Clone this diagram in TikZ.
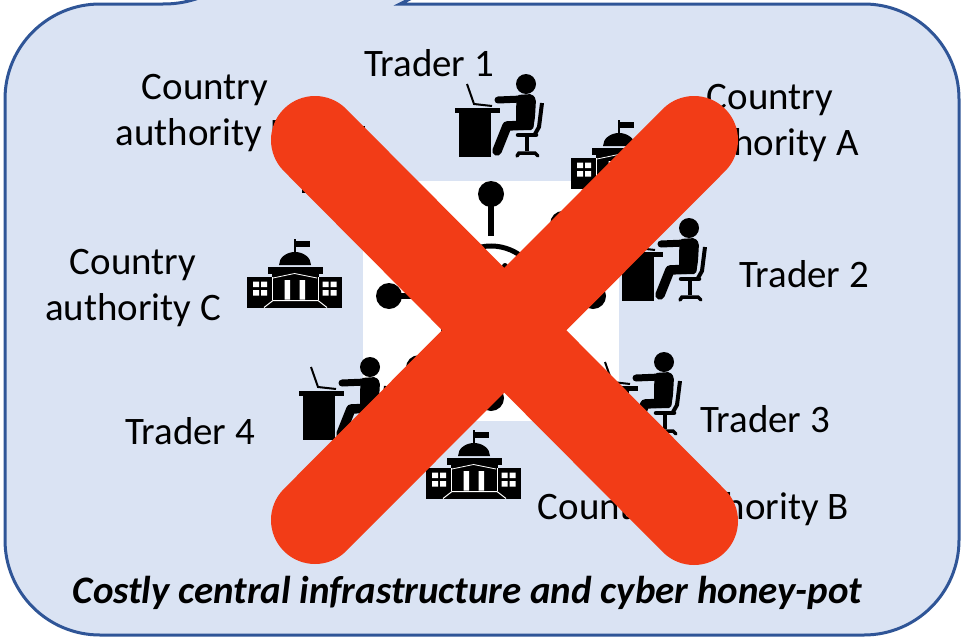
\documentclass[tikz,border=0pt]{standalone}
\usepackage{fontspec}
\usetikzlibrary{calc}
\setmainfont{Carlito}
\definecolor{panelfill}{HTML}{DAE3F3}
\definecolor{panelline}{HTML}{2F5597}
\definecolor{crossred}{HTML}{F23C17}
\tikzset{
  x=1pt,y=-1pt,
  lbl/.style={inner sep=0pt,outer sep=0pt,font=\fontsize{38.9}{46}\selectfont,text=black},
  mlbl/.style={lbl,align=center},
  captext/.style={lbl,font=\fontsize{38.9}{46}\selectfont\bfseries\itshape},
  crossbar/.style={draw=crossred,line width=88pt,line cap=round},
  building/.pic={
    \fill[black] (46.7,0) rectangle (49,16);
    \fill[black] (48,1.7) rectangle (63,8);
    \fill[black] (32,26) arc[start angle=180,end angle=360,x radius=16,y radius=13] -- cycle;
    \fill[black] (20.7,28) rectangle (76,34.5);
    \fill[black] (0,38) rectangle (25,68.5);
    \fill[black] (72,38) rectangle (95,68.5);
    \fill[black] (25,34) rectangle (72,68.5);
    \fill[white] (6,42.5) rectangle (12,48) (14,42.5) rectangle (20,48)
                 (6,51) rectangle (12,56.5) (14,51) rectangle (20,56.5)
                 (75.5,42.5) rectangle (81.5,48) (83.5,42.5) rectangle (89.5,48)
                 (75.5,51) rectangle (81.5,56.5) (83.5,51) rectangle (89.5,56.5);
    \draw[white,line width=.8pt] (26,39) -- (47.5,34.5) -- (70,39);
    \draw[white,line width=1pt] (25.5,38) -- (25.5,61) (71.5,38) -- (71.5,61);
    \fill[white] (37.5,41) rectangle (43,60.5) (52.5,41) rectangle (58,60.5);
    \draw[white,line width=1pt] (17,68.5) -- (26,61.5) -- (71,61.5) -- (80,68.5);
  },
  trader/.pic={
    \fill[black] (0,0) circle[radius=10];
    \fill[black] (-67,28) rectangle (-35,72.5);
    \fill[black] (-71,24) rectangle (-26,29);
    \draw[black,line width=2pt] (-59,0) -- (-52,20) -- (-34,22);
    \draw[black,line width=7pt,line cap=round] (-28,16) -- (-4,15);
    \fill[black,rounded corners=2pt] (-9,11) -- (6,10) -- (10,15) -- (9,33) -- (7,46) -- (-10,46) -- (-10,25) -- cycle;
    \draw[black,line width=9.5pt,line cap=round,line join=round] (3,41) -- (-19,42) -- (-29,67);
    \draw[black,line width=4pt,line join=round] (16,19) -- (13,43) -- (9,50);
    \draw[black,line width=4.5pt,line cap=round] (-8,51) -- (10,51);
    \draw[black,line width=4pt] (1,53) -- (1,67);
    \draw[black,line width=3.5pt,line cap=round] (-9,72) -- (-7,69) -- (9,69) -- (12,72);
  }
}
\begin{document}
\begin{tikzpicture}
\useasboundingbox (0,0) rectangle (961,637);
\clip (0,0) rectangle (961,637);
\fill[white] (0,0) rectangle (961,637);
% callout panel
\draw[fill=panelfill,draw=panelline,line width=3pt,line join=miter]
  (100,4) -- (163,4) .. controls (173,4) and (183,3) .. (196,-1) -- (215,-8) -- (424,-8) -- (400,4)
  -- (864,4) arc[start angle=-90,end angle=0,radius=95] -- (959,540)
  arc[start angle=0,end angle=90,radius=95] -- (100,635)
  arc[start angle=90,end angle=180,radius=95] -- (5,99)
  arc[start angle=180,end angle=270,radius=95] -- cycle;
% central network picture
\fill[white] (363,181) rectangle (619,421);
\coordinate (hub) at (491,296);
\draw[black,line width=5pt] (hub) circle[radius=50];
\foreach \a in {0,45,...,315}{
  \draw[black,line width=6pt] ($(hub)+(\a:60)$) -- ($(hub)+(\a:102)$);
  \fill[black] ($(hub)+(\a:102)$) circle[radius=13];
}
\fill[black] (505,266) circle[radius=3];
\fill[black] (444,330) circle[radius=3];
% icons
\pic at (571,120) {building};
\pic at (426,430) {building};
\pic at (247,239) {building};
\pic at (302,124) {building};
\pic at (526,84) {trader};
\pic at (689,228) {trader};
\pic at (664,362) {trader};
\pic at (370,367) {trader};
% labels
\node[lbl,anchor=base] (t1) at (429,76) {Trader 1};
\node[lbl,anchor=base] (t2) at (804,287) {Trader 2};
\node[lbl,anchor=base] (t3) at (765,432) {Trader 3};
\node[lbl,anchor=base] (t4) at (190,444) {Trader 4};
\node[mlbl] (ca) at (770,123) {Country\\authority A};
\node[mlbl] (cd) at (205,113) {Country\\authority D};
\node[mlbl] (cc) at (133,288) {Country\\authority C};
\node[lbl,anchor=base] (cb) at (693.5,519) {Country authority B};
\node[captext,anchor=base] (caption) at (467.5,603) {Costly central infrastructure and cyber honey-pot};
% cross
\draw[crossbar] (315,140) -- (694,521);
\draw[crossbar] (694,140) -- (315,520);
\end{tikzpicture}
\end{document}
